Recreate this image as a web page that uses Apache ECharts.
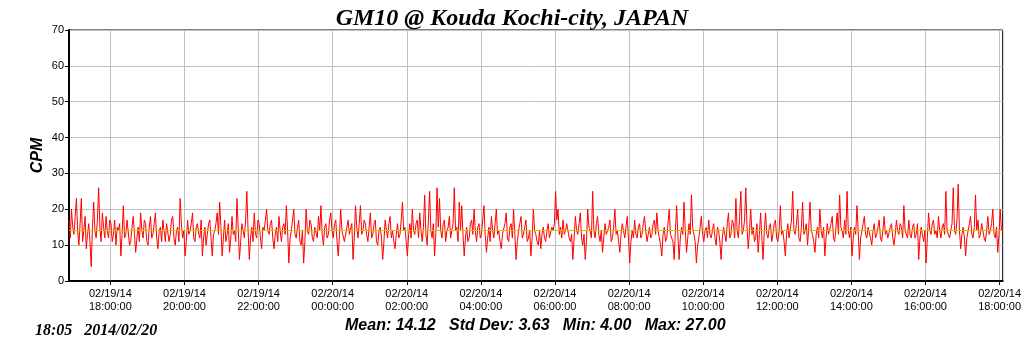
<!DOCTYPE html>
<html>
<head>
<meta charset="utf-8">
<script src="https://cdn.jsdelivr.net/npm/echarts@6/dist/echarts.min.js"></script>
<style>
  html, body { margin: 0; padding: 0; background: #fff; }
  #main { width: 1024px; height: 351px; }
</style>
</head>
<body>
<div id="main"></div>
<script>
var chartDom = document.getElementById('main');
var myChart = echarts.init(chartDom);
var option;

// readings every 2 minutes, 02/19 16:53 -> 02/20 18:05
var startTime = '2014-02-19 16:53';
var endTime = '2014-02-20 18:05';
var stepMinutes = 2;
var cpm = [
  17, 12, 20, 15, 13, 18, 23, 14, 10, 16, 23, 11, 14, 18, 9, 13, 16, 11, 4, 15, 22, 14, 12, 17, 26, 15, 11, 19, 15, 12, 18, 14, 12, 17, 16, 11, 13, 17, 10, 15,
  14, 16, 7, 13, 21, 12, 13, 17, 17, 10, 11, 15, 18, 13, 8, 12, 15, 11, 19, 14, 12, 17, 16, 11, 10, 15, 18, 12, 13, 16, 19, 12, 9, 14, 15, 11, 17, 14, 11, 16,
  16, 11, 13, 17, 18, 12, 10, 14, 15, 11, 23, 16, 12, 14, 7, 11, 17, 13, 14, 16, 19, 12, 11, 15, 16, 13, 12, 17, 7, 12, 15, 10, 13, 16, 17, 12, 7, 13, 14, 16,
  19, 13, 22, 15, 7, 12, 17, 11, 13, 16, 8, 12, 18, 13, 14, 11, 23, 15, 6, 11, 16, 14, 12, 17, 25, 14, 6, 12, 15, 11, 19, 13, 12, 17, 16, 12, 9, 15, 14, 17,
  20, 14, 13, 16, 17, 12, 9, 13, 15, 11, 18, 14, 11, 15, 16, 13, 21, 14, 5, 12, 14, 17, 20, 13, 12, 15, 17, 11, 10, 14, 5, 11, 20, 14, 13, 17, 16, 12, 11, 15,
  15, 12, 18, 14, 21, 13, 10, 15, 16, 12, 13, 17, 19, 14, 12, 16, 17, 11, 7, 13, 20, 14, 14, 11, 11, 15, 17, 13, 13, 16, 6, 12, 21, 15, 12, 16, 21, 13, 14, 17,
  16, 13, 11, 15, 19, 12, 13, 16, 17, 11, 10, 14, 15, 12, 6, 11, 17, 14, 12, 16, 18, 12, 14, 11, 9, 13, 16, 12, 13, 17, 22, 14, 15, 11, 7, 13, 16, 12, 20, 14,
  13, 16, 17, 12, 19, 14, 11, 15, 24, 13, 10, 17, 25, 14, 12, 16, 7, 13, 26, 15, 23, 14, 12, 16, 17, 11, 14, 15, 18, 12, 12, 16, 26, 14, 15, 11, 22, 14, 21, 13,
  7, 12, 15, 11, 12, 16, 17, 13, 20, 14, 11, 15, 16, 12, 13, 17, 21, 13, 8, 12, 15, 11, 18, 14, 12, 16, 20, 13, 14, 11, 9, 13, 13, 16, 19, 12, 11, 15, 16, 12,
  20, 13, 6, 11, 14, 16, 18, 12, 13, 15, 17, 11, 12, 14, 7, 12, 20, 14, 13, 11, 10, 14, 9, 13, 15, 12, 11, 14, 16, 12, 12, 15, 14, 16, 25, 17, 20, 13, 15, 12,
  17, 13, 14, 16, 16, 12, 11, 13, 6, 12, 18, 14, 13, 16, 19, 12, 10, 13, 6, 11, 20, 15, 14, 12, 25, 14, 12, 16, 18, 13, 11, 14, 8, 12, 16, 13, 13, 15, 17, 11,
  12, 15, 20, 13, 14, 11, 8, 13, 16, 14, 12, 15, 18, 12, 5, 11, 14, 12, 17, 13, 12, 15, 16, 12, 13, 16, 18, 14, 11, 13, 15, 12, 13, 16, 17, 13, 19, 14, 12, 10,
  7, 13, 15, 11, 12, 16, 20, 13, 13, 11, 6, 14, 21, 13, 6, 12, 15, 13, 22, 14, 8, 12, 16, 13, 24, 15, 13, 11, 5, 10, 12, 15, 18, 13, 11, 14, 15, 12, 17, 13,
  12, 14, 16, 12, 10, 15, 14, 11, 6, 12, 15, 13, 11, 16, 19, 12, 13, 17, 16, 12, 23, 14, 12, 18, 25, 13, 14, 17, 26, 15, 9, 14, 20, 13, 15, 11, 12, 16, 8, 13,
  19, 12, 6, 14, 19, 13, 12, 15, 16, 11, 13, 16, 17, 12, 11, 14, 21, 13, 14, 11, 7, 13, 16, 12, 12, 17, 25, 14, 13, 16, 20, 12, 11, 15, 22, 13, 14, 16, 10, 15,
  22, 14, 13, 11, 8, 13, 15, 12, 20, 14, 12, 15, 7, 12, 16, 13, 13, 16, 18, 12, 11, 15, 19, 13, 24, 15, 14, 12, 17, 13, 25, 14, 12, 15, 7, 12, 15, 13, 21, 14,
  6, 12, 14, 16, 18, 13, 12, 15, 15, 12, 10, 14, 16, 12, 13, 15, 17, 12, 11, 14, 18, 13, 14, 12, 12, 15, 16, 12, 10, 13, 17, 14, 13, 16, 15, 12, 21, 14, 14, 12,
  17, 13, 12, 15, 16, 12, 13, 16, 6, 12, 15, 13, 11, 14, 5, 12, 19, 14, 13, 16, 17, 13, 14, 12, 18, 14, 12, 15, 16, 13, 25, 14, 14, 12, 12, 16, 26, 14, 13, 17,
  27, 14, 9, 13, 15, 12, 7, 12, 14, 16, 18, 13, 12, 15, 24, 14, 17, 12, 13, 16, 16, 12, 11, 14, 18, 13, 14, 16, 20, 13, 12, 15, 8, 13, 20, 14, 15
];
var tickTimes = [
  '2014-02-19 18:00', '2014-02-19 20:00', '2014-02-19 22:00', '2014-02-20 00:00',
  '2014-02-20 02:00', '2014-02-20 04:00', '2014-02-20 06:00', '2014-02-20 08:00',
  '2014-02-20 10:00', '2014-02-20 12:00', '2014-02-20 14:00', '2014-02-20 16:00',
  '2014-02-20 18:00'
];
var meanValue = 14.12;
var statsText = 'Mean: 14.12   Std Dev: 3.63   Min: 4.00   Max: 27.00';
var stampText = '18:05   2014/02/20';

function toMs(s) { return new Date(s.replace(' ', 'T')).getTime(); }
var t0 = toMs(startTime);
var seriesData = cpm.map(function (v, i) {
  return [t0 + i * stepMinutes * 60000, v];
});
var tickValues = tickTimes.map(toMs);

function pad(n) { return (n < 10 ? '0' : '') + n; }

option = {
  animation: false,
  backgroundColor: '#fff',
  title: {
    text: 'GM10 @ Kouda Kochi-city, JAPAN',
    left: 'center',
    top: 2,
    textStyle: {
      fontFamily: 'Liberation Serif',
      fontStyle: 'italic',
      fontWeight: 'bold',
      fontSize: 24,
      color: '#000'
    }
  },
  graphic: [
    {
      type: 'text',
      left: 345,
      top: 318,
      style: {
        text: statsText,
        fontFamily: 'Liberation Sans',
        fontStyle: 'italic',
        fontWeight: 'bold',
        fontSize: 16,
        fill: '#000'
      }
    },
    {
      type: 'text',
      left: 35,
      top: 323,
      style: {
        text: stampText,
        fontFamily: 'Liberation Serif',
        fontStyle: 'italic',
        fontWeight: 'bold',
        fontSize: 16,
        fill: '#000'
      }
    }
  ],
  grid: {
    left: 69,
    right: 20,
    top: 30,
    bottom: 70,
    show: true,
    borderColor: '#000',
    borderWidth: 1
  },
  xAxis: {
    type: 'value',
    min: t0,
    max: toMs(endTime),
    axisLine: { lineStyle: { color: '#000', width: 2 } },
    axisTick: { show: true, length: 4, customValues: tickValues, lineStyle: { color: '#000' } },
    splitLine: { show: true, lineStyle: { color: '#c0c0c0', width: 1 } },
    axisLabel: {
      color: '#000',
      fontFamily: 'Liberation Sans',
      fontSize: 11,
      lineHeight: 13,
      margin: 6,
      customValues: tickValues,
      formatter: function (val) {
        var d = new Date(val);
        return pad(d.getMonth() + 1) + '/' + pad(d.getDate()) + '/' + pad(d.getFullYear() % 100) +
          '\n' + pad(d.getHours()) + ':' + pad(d.getMinutes()) + ':' + pad(d.getSeconds());
      }
    }
  },
  yAxis: {
    type: 'value',
    min: 0,
    max: 70,
    interval: 10,
    name: 'CPM',
    nameLocation: 'middle',
    nameGap: 23,
    nameMoveOverlap: false,
    nameTextStyle: {
      fontFamily: 'Liberation Sans',
      fontStyle: 'italic',
      fontWeight: 'bold',
      fontSize: 16,
      color: '#000'
    },
    axisLine: { show: true, lineStyle: { color: '#000', width: 2 } },
    axisTick: { show: true, length: 4, lineStyle: { color: '#000' } },
    splitLine: { show: true, lineStyle: { color: '#c0c0c0', width: 1 } },
    axisLabel: {
      color: '#000',
      fontFamily: 'Liberation Sans',
      fontSize: 11,
      margin: 5
    }
  },
  series: [
    {
      name: 'mean',
      type: 'line',
      data: [],
      z: 1,
      markLine: {
        silent: true,
        symbol: 'none',
        label: { show: false },
        lineStyle: { color: '#c8c800', width: 1, type: 'solid' },
        data: [{ yAxis: meanValue }]
      }
    },
    {
      name: 'CPM',
      type: 'line',
      data: seriesData,
      z: 2,
      showSymbol: false,
      symbol: 'none',
      lineStyle: { color: '#ff0000', width: 1 }
    }
  ]
};

option && myChart.setOption(option);
</script>
</body>
</html>
